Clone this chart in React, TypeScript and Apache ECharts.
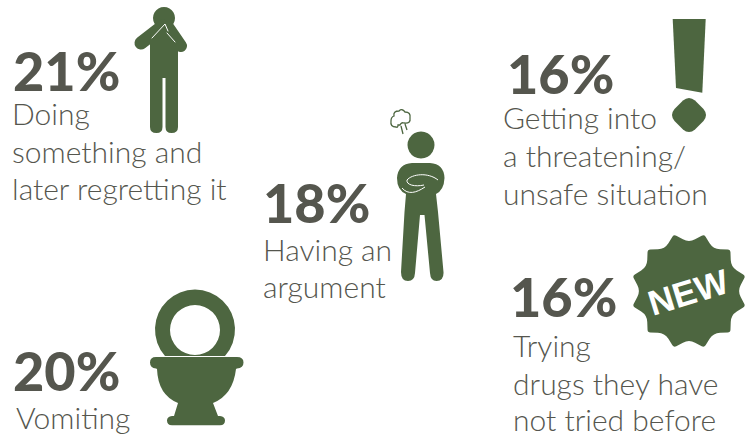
import React, { useEffect, useRef } from "react";
import * as echarts from "echarts";

const percents = ["21%", "20%", "18%", "16%", "16%"];
const captions = [
  ["Doing", "something and", "later regretting it"],
  ["Vomiting"],
  ["Having an", "argument"],
  ["Getting into", "a threatening/", "unsafe situation"],
  ["Trying", "drugs they have", "not tried before"],
];
const badgeText = "NEW";

const GREEN = "#4d6640";
const TEXT = "#55564e";
const BOLD_SIZE = 54;
const BODY_SIZE = 30;
const FONT = "Lato";

// [x of percent, baseline of percent, x of caption, baseline of each caption line]
const slots: [number, number, number, number[]][] = [
  [13, 89, 12, [125, 163, 200]],
  [13, 389, 16, [429]],
  [263, 221, 263, [261, 298]],
  [507, 92, 503, [129, 167, 205]],
  [510, 315, 513, [357, 395, 431]],
];

function badgePath(cx: number, cy: number, ro: number, ri: number, n: number) {
  const step = Math.PI / n;
  const pt = (k: number) => {
    const r = k % 2 ? ro : ri;
    const a = k * step;
    return [cx + r * Math.sin(a), cy - r * Math.cos(a)];
  };
  const lerp = (p: number[], q: number[], t: number) => [p[0] + (q[0] - p[0]) * t, p[1] + (q[1] - p[1]) * t];
  let d = "";
  for (let k = 0; k < 2 * n; k++) {
    const prev = pt(k - 1 < 0 ? k - 1 + 2 * n : k - 1);
    const cur = pt(k);
    const next = pt(k + 1);
    const t = k % 2 ? 0.16 : 0.4;
    const a = lerp(cur, prev, t);
    const b = lerp(cur, next, t);
    d += `${k === 0 ? "M" : "L"}${a[0]} ${a[1]}Q${cur[0]} ${cur[1]} ${b[0]} ${b[1]}`;
  }
  return d + "Z";
}

const paths: Record<string, string> = {
  fig1: "M150 40Q150 28 160 28L168 28Q178 28 178 40L178 127Q178 133 171.5 133Q165.5 133 165.5 127L165.5 78L162.5 78L162.5 127Q162.5 133 156.5 133Q150 133 150 127Z",
  fig2: "M412 163L430 163Q444 164 444.5 178Q444 190 436 194L438 212L443.5 272Q444 281 436.5 281Q430.5 281 430 273L424.5 215L420 215L415 273Q414.5 281 408 281Q401 281 401 272L404.5 212L406 194Q397 190 397 178Q398 164 412 163Z",
  cloud: "M396 127Q390 127 391 121Q391 117 394 116Q393 111 399 111Q402 108 405 112Q411 112 410 118Q411 124 404 123Q401 122 400 125L398 125Q398 128 396 127ZM401 126L403 134M405 124L407 130",
  bang: "M672.7 19L705.7 19L702.3 92.7L676 88Z",
  dot: "M683 100.5Q689 95.5 695 100.5L703.5 109Q708.5 115 703.5 121L695 129.5Q689 134.5 683 129.5L674.5 121Q669.5 115 674.5 109Z",
  ring: "M165 356A40 40 0 1 1 225 356ZM195 305A25 25 0 1 0 195 355A25 25 0 1 0 195 305Z",
  bowl: "M156 357L237 357Q243.5 357 243.5 362.5Q243.5 368 237 368.5L236 369Q233 395 213 403L218 416L220 416Q225 416.5 225 420.5Q225 425 220 425.3L172 425.3Q167 425 167 420.5Q167 416.5 172 416L174 416L178 403Q158 395 157 369L156 368.5Q150 368 150 362.5Q150 357 156 357Z",
  badge: badgePath(689, 291, 58.5, 48.5, 12),
};
Object.keys(paths).forEach((k) =>
  echarts.graphic.registerShape("sh_" + k, echarts.graphic.extendPath(paths[k], {}) as any)
);

const fill = (k: string) => ({ type: "sh_" + k, x: 0, y: 0, style: { fill: GREEN } });
const stroke = (pts: number[][], color: string, w: number) => ({
  type: "polyline",
  shape: { points: pts },
  style: { stroke: color, lineWidth: w, fill: "none", lineCap: "round", lineJoin: "round" },
});

function buildGraphics() {
  const out: any[] = [];
  slots.forEach(([px, py, cx, ys], i) => {
    out.push({
      type: "text",
      x: px,
      y: py + 8,
      style: { text: percents[i], fill: TEXT, font: `900 ${BOLD_SIZE}px ${FONT}`, verticalAlign: "bottom" },
    });
    captions[i].forEach((line, j) => {
      out.push({
        type: "text",
        x: cx,
        y: ys[j] + 3,
        style: { text: line, fill: TEXT, font: `300 ${BODY_SIZE}px ${FONT}`, verticalAlign: "bottom" },
      });
    });
  });
  // figure regretting
  out.push({ type: "circle", shape: { cx: 164, cy: 18, r: 11 }, style: { fill: GREEN } });
  out.push(stroke([[141, 43], [163, 26]], GREEN, 13));
  out.push(stroke([[181, 46], [168, 27]], GREEN, 12));
  out.push(fill("fig1"));
  out.push(stroke([[152, 38], [165, 24], [168, 31]], "#ffffff", 1));
  out.push(stroke([[167, 33], [175, 42]], "#ffffff", 1));
  // figure arguing
  out.push({ type: "circle", shape: { cx: 421, cy: 145, r: 13.5 }, style: { fill: GREEN } });
  out.push(fill("fig2"));
  out.push({
    type: "sh_cloud", x: 0, y: 0,
    style: { fill: "none", stroke: GREEN, lineWidth: 1.3 },
  });
  out.push({
    type: "bezierCurve",
    shape: { x1: 407, y1: 180, cpx1: 412, cpy1: 174, cpx2: 428, cpy2: 172, x2: 438, y2: 180 },
    style: { stroke: "#fff", lineWidth: 1, fill: "none" },
  });
  out.push({
    type: "bezierCurve",
    shape: { x1: 407, y1: 180, cpx1: 406, cpy1: 185, cpx2: 415, cpy2: 187, x2: 424, y2: 185 },
    style: { stroke: "#fff", lineWidth: 1, fill: "none" },
  });
  out.push({
    type: "bezierCurve",
    shape: { x1: 402, y1: 188, cpx1: 408, cpy1: 195, cpx2: 416, cpy2: 193, x2: 425, y2: 187 },
    style: { stroke: "#fff", lineWidth: 1, fill: "none" },
  });
  // exclamation
  out.push(fill("bang"), fill("dot"));
  // toilet
  out.push(fill("ring"), fill("bowl"));
  // badge
  out.push(fill("badge"));
  out.push({
    type: "text",
    x: 688,
    y: 292,
    rotation: 0.3,
    style: {
      text: badgeText,
      fill: "#ffffff",
      font: 'bold 35px "Liberation Sans"',
      align: "center",
      verticalAlign: "middle",
    },
  });
  return out;
}

export default function App() {
  const ref = useRef<HTMLDivElement>(null);
  useEffect(() => {
    document.body.style.margin = "0";
    const chart = echarts.init(ref.current!, undefined, { renderer: "svg" });
    chart.setOption({
      animation: false,
      backgroundColor: "#ffffff",
      graphic: { elements: buildGraphics() },
    });
    return () => chart.dispose();
  }, []);
  return <div ref={ref} style={{ width: 753, height: 436 }} />;
}
